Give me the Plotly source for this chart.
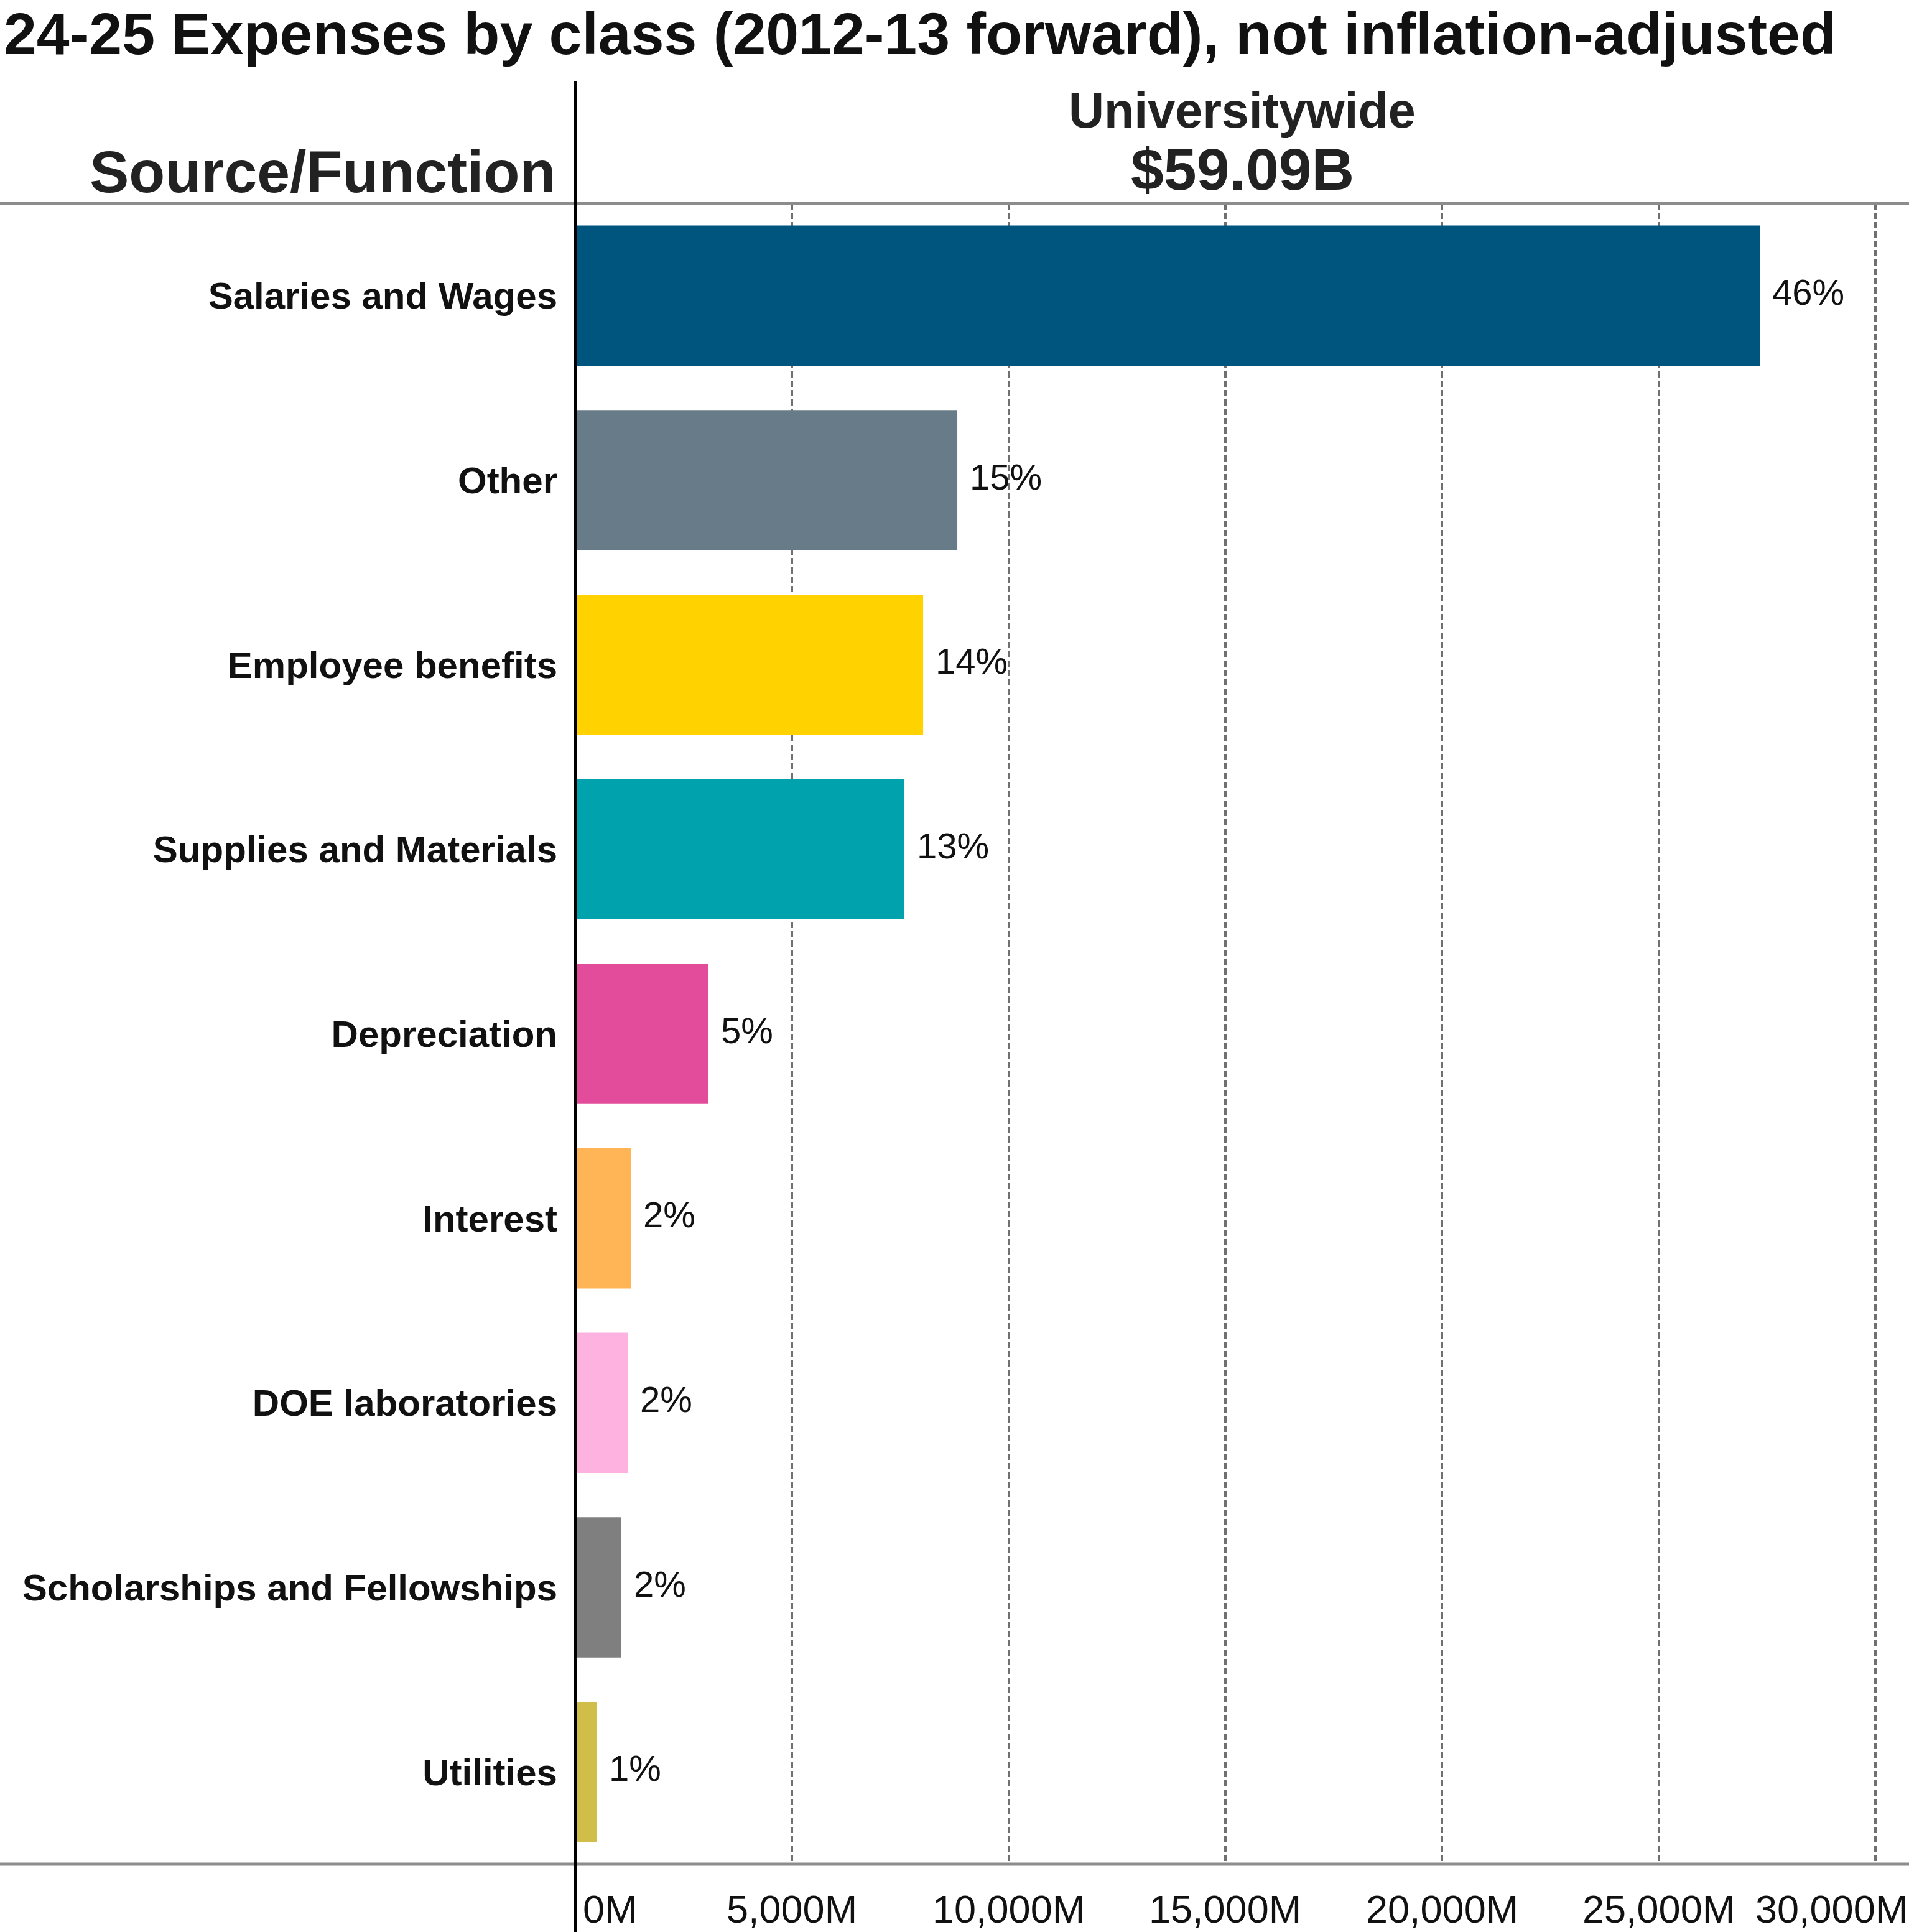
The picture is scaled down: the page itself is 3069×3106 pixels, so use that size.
import plotly.graph_objects as go

categories = ["Salaries and Wages", "Other", "Employee benefits", "Supplies and Materials",
              "Depreciation", "Interest", "DOE laboratories", "Scholarships and Fellowships", "Utilities"]
values_m = [27333, 8814, 8025, 7594, 3072, 1278, 1206, 1062, 488]
pct_labels = ["46%", "15%", "14%", "13%", "5%", "2%", "2%", "2%", "1%"]
colors = ["#00557F", "#677C88", "#FFD200", "#00A3AD", "#E34C9A", "#FFB555", "#FDB2E0", "#7F7F7F", "#D1BE48"]
tick_vals = [0, 5000, 10000, 15000, 20000, 25000, 30000]
tick_text = ["0M", "5,000M", "10,000M", "15,000M", "20,000M", "25,000M", "30,000M"]
title_text = "24-25 Expenses by class (2012-13 forward), not inflation-adjusted"
column_header = "Universitywide"
column_total = "$59.09B"
row_header = "Source/Function"

W, H = 3069, 3106
L, R, T, B = 925, 0, 327, 109
PW, PH = W - L - R, H - T - B
FONT = "Liberation Sans, Arial, sans-serif"

def py(Y):
    return (H - B - Y) / PH

def px(X):
    return (X - L) / PW

fig = go.Figure(go.Bar(
    x=values_m, y=categories, orientation="h",
    marker=dict(color=colors, line=dict(width=0)),
    width=0.76, hoverinfo="skip",
))

ann = []
for c, v, t in zip(categories, values_m, pct_labels):
    ann.append(dict(x=v, y=c, xref="x", yref="y", text=t, showarrow=False,
                    xanchor="left", yanchor="middle", xshift=18, yshift=6,
                    font=dict(family=FONT, size=58, color="#111111")))
for i, (tv, tt) in enumerate(zip(tick_vals, tick_text)):
    if i == 0:
        xa, xs = "left", 10
    elif i == len(tick_vals) - 1:
        xa, xs = "right", 54
    else:
        xa, xs = "center", 0
    ann.append(dict(x=tv, y=py(3069), xref="x", yref="paper", text=tt, showarrow=False,
                    xanchor=xa, yanchor="middle", xshift=xs,
                    font=dict(family=FONT, size=63, color="#111111")))

ann += [
    dict(x=px(4), y=py(54), xref="paper", yref="paper", text="<b>" + title_text + "</b>",
         showarrow=False, xanchor="left", yanchor="middle",
         font=dict(family=FONT, size=95, color="#111111")),
    dict(x=px(895), y=py(276), xref="paper", yref="paper", text="<b>" + row_header + "</b>",
         showarrow=False, xanchor="right", yanchor="middle",
         font=dict(family=FONT, size=95, color="#222222")),
    dict(x=0.5, y=py(177), xref="paper", yref="paper", text="<b>" + column_header + "</b>",
         showarrow=False, xanchor="center", yanchor="middle",
         font=dict(family=FONT, size=79, color="#222222")),
    dict(x=0.5, y=py(272), xref="paper", yref="paper", text="<b>" + column_total + "</b>",
         showarrow=False, xanchor="center", yanchor="middle",
         font=dict(family=FONT, size=95, color="#222222")),
]

shapes = [
    dict(type="line", xref="paper", yref="paper", x0=px(0), x1=0, y0=1, y1=1,
         line=dict(color="#8C8C8C", width=5), layer="above"),
    dict(type="line", xref="paper", yref="paper", x0=0, x1=1, y0=1, y1=1,
         line=dict(color="#8C8C8C", width=4), layer="above"),
    dict(type="line", xref="paper", yref="paper", x0=px(0), x1=1, y0=0, y1=0,
         line=dict(color="#8C8C8C", width=5), layer="above"),
    dict(type="line", xref="paper", yref="paper", x0=0, x1=0, y0=py(130), y1=py(H),
         line=dict(color="#000000", width=4), layer="above"),
]

fig.update_layout(
    width=W, height=H,
    margin=dict(l=L, r=R, t=T, b=B, pad=0),
    paper_bgcolor="white", plot_bgcolor="white",
    showlegend=False,
    annotations=ann, shapes=shapes,
    xaxis=dict(range=[0, (W - L) / 348.33 * 5000], tickvals=tick_vals, showticklabels=False,
               showgrid=True, gridcolor="#707070", gridwidth=4, griddash="10px,5px",
               zeroline=False, showline=False, ticks="", fixedrange=True),
    yaxis=dict(categoryorder="array", categoryarray=categories, autorange="reversed",
               showgrid=False, zeroline=False, showline=False, ticks="",
               ticklabelstandoff=28,
               tickfont=dict(family=FONT, size=60, color="#111111", weight="bold")),
)

fig.write_html("out.html")
